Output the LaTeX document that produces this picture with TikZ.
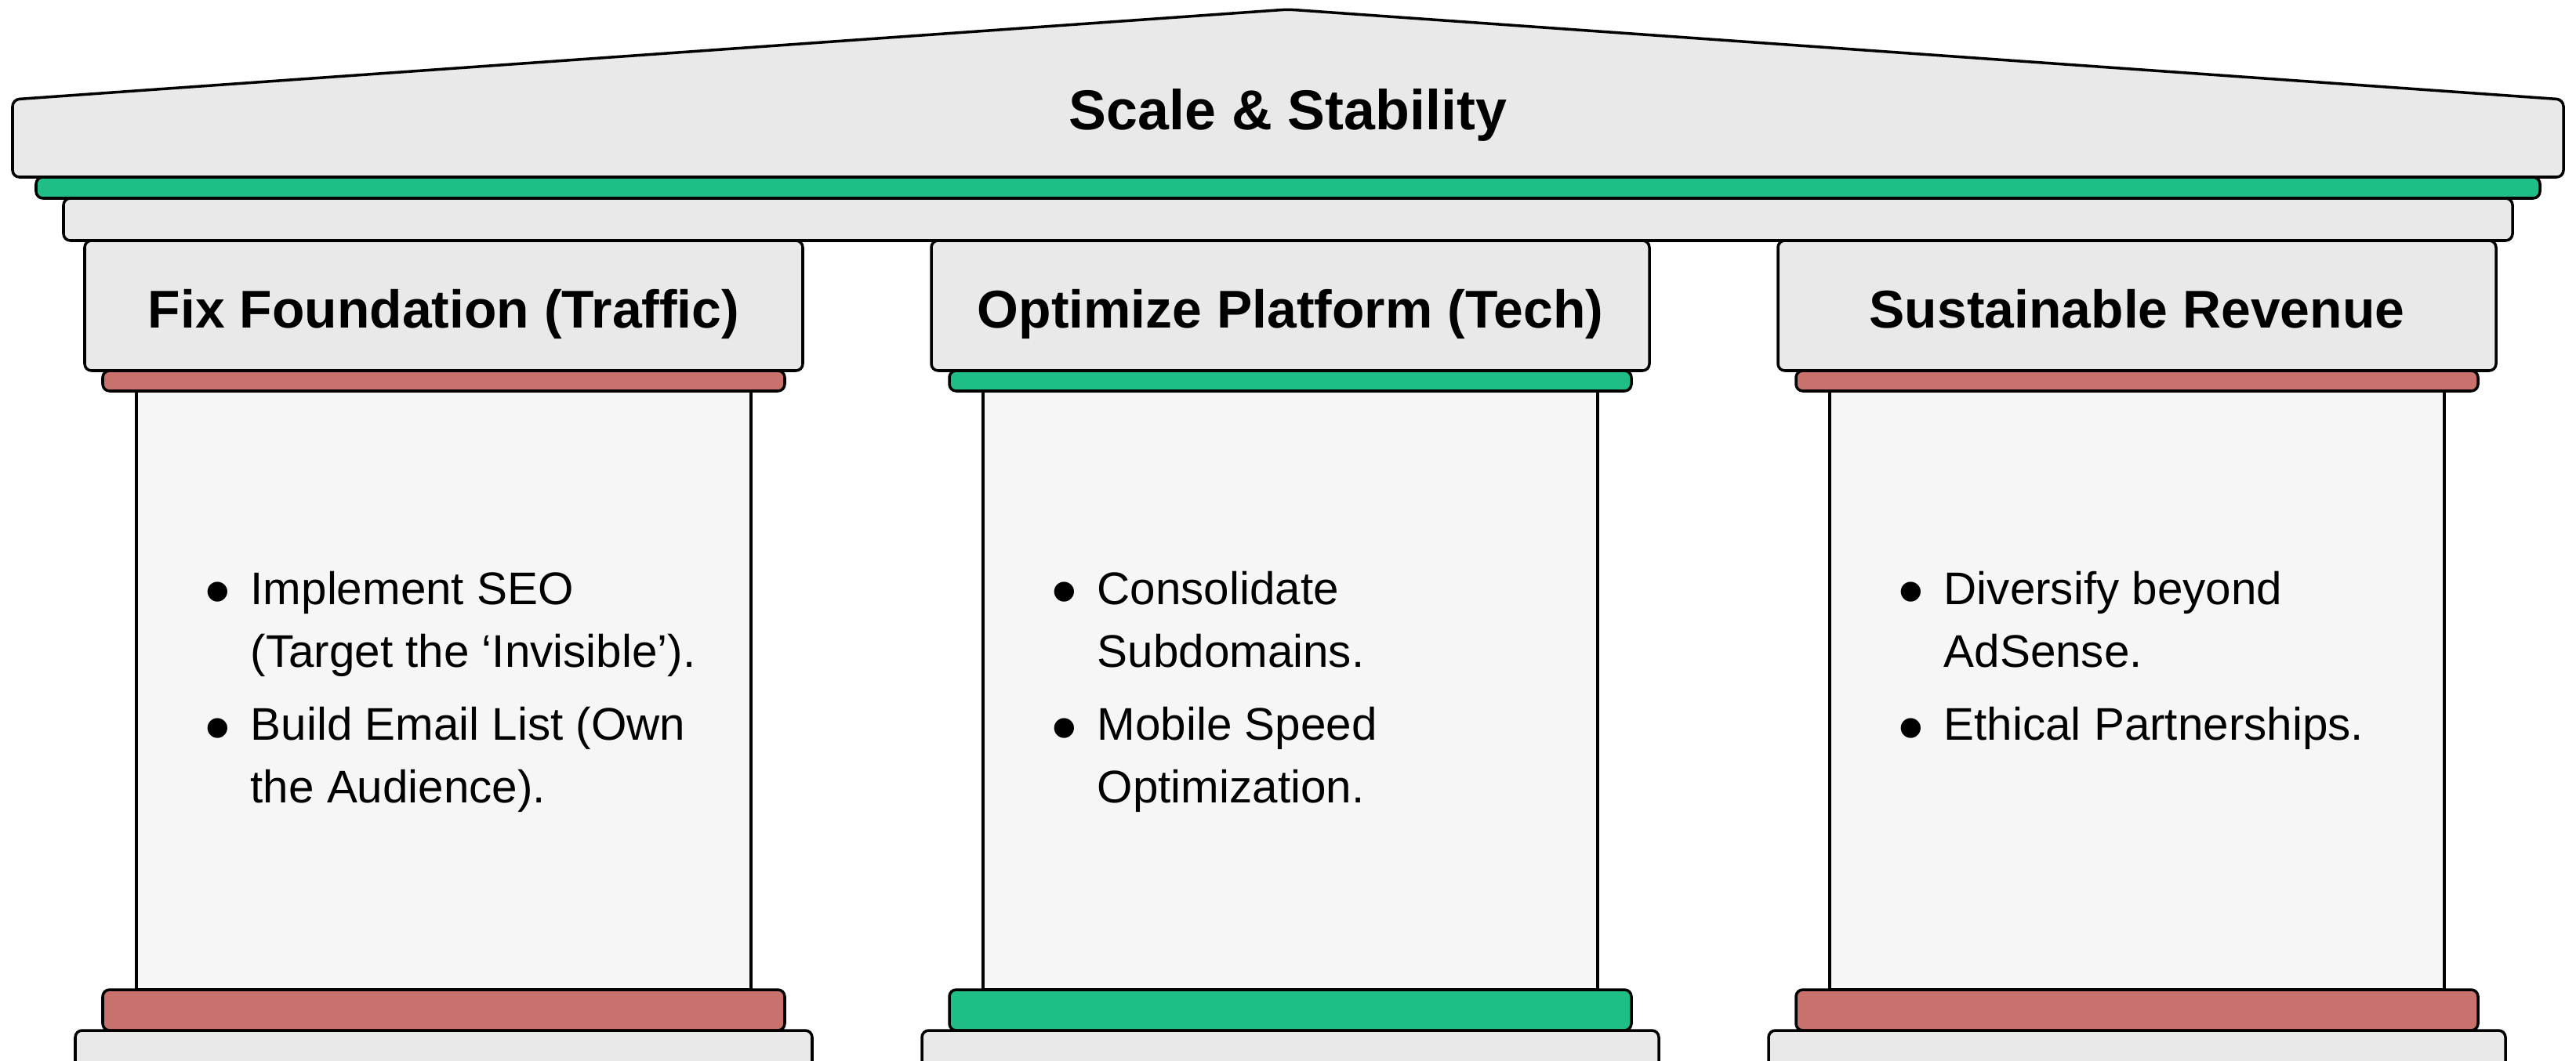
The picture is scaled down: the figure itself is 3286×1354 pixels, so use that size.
\documentclass[tikz,border=0pt]{standalone}
\usepackage{fontspec}
\setmainfont{Liberation Sans}
\usepackage{graphicx}
\usetikzlibrary{positioning}
\definecolor{stonegray}{HTML}{E9E9E9}
\definecolor{shaftgray}{HTML}{F6F6F6}
\definecolor{bandgreen}{RGB}{30,190,134}
\definecolor{bandred}{RGB}{201,113,108}
\newcommand{\pbullet}{\llap{\raisebox{-4.5pt}{\scalebox{1.6}{•}}\hspace{7.3pt}}}

\begin{document}
\begin{tikzpicture}[x=0.01cm, y=-0.01cm,
  stone/.style={draw=black, line width=1pt, fill=stonegray, rounded corners=2.5pt},
  shaft/.style={draw=black, line width=1pt, fill=shaftgray},
  band/.style={draw=black, line width=1pt, rounded corners=2.5pt},
  heading/.style={anchor=base, inner sep=0pt, font=\bfseries\fontsize{19.3}{23}\selectfont},
  items/.style={anchor=north west, inner sep=0pt, align=left, font=\fontsize{16.6}{22.8}\selectfont}]
\useasboundingbox (0,0) rectangle (3286,1354);
\clip (0,0) rectangle (3286,1354);

% Dach und Gebaelk
\draw[stone] (16,226) -- (16,127) -- (1643,12) -- (3270,127) -- (3270,226) -- cycle;
\draw[band, fill=bandgreen] (46,226) rectangle (3240,253);
\draw[stone] (81,253) rectangle (3205,307);
\node[heading, font=\bfseries\fontsize{20.4}{24}\selectfont] (roof) at (1643,165) {Scale \& Stability};

% Saeulen
\foreach \c/\col/\name/\head in {566/bandred/found/Fix Foundation (Traffic),
                                 1646/bandgreen/tech/Optimize Platform (Tech),
                                 2726/bandred/rev/Sustainable Revenue}{
  \draw[shaft] (\c-392,499) rectangle (\c+392,1263);
  \draw[stone] (\c-458,307) rectangle (\c+458,473);
  \draw[band, fill=\col] (\c-435,473) rectangle (\c+435,499);
  \draw[band, fill=\col] (\c-435,1263) rectangle (\c+435,1315);
  \draw[stone] (\c-470,1315) rectangle (\c+470,1420);
  \node[heading] (\name-head) at (\c,418) {\head};
}

% Stichpunkte
\node[items] (found-items) at (319,728) {\pbullet Implement SEO\\
  (Target the ‘Invisible’).\\[3.7pt]
  \pbullet Build Email List (Own\\
  the Audience).};
\node[items] (tech-items) at (1399,728) {\pbullet Consolidate\\
  Subdomains.\\[3.7pt]
  \pbullet Mobile Speed\\
  Optimization.};
\node[items] (rev-items) at (2479,728) {\pbullet Diversify beyond\\
  AdSense.\\[3.7pt]
  \pbullet Ethical Partnerships.};

\end{tikzpicture}
\end{document}
